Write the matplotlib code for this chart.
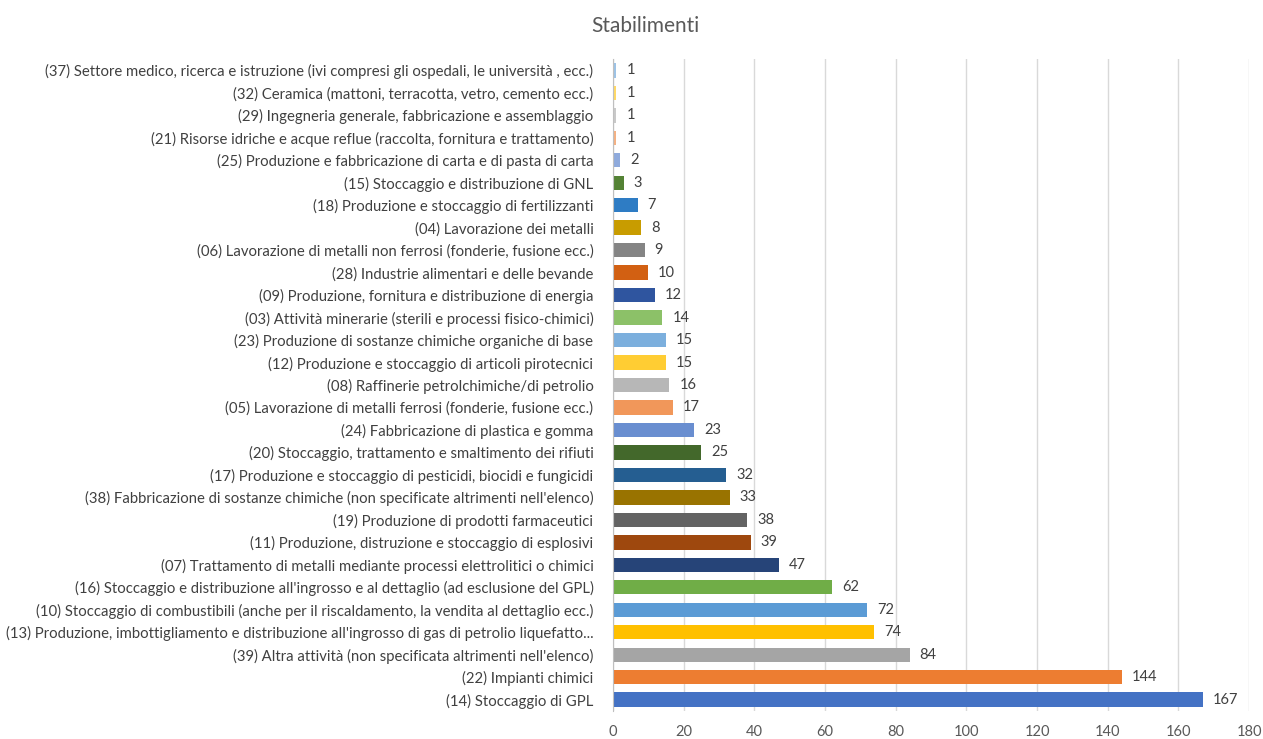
import matplotlib.pyplot as plt

# categories listed bottom -> top, as drawn
categories = [
    "(14) Stoccaggio di GPL",
    "(22) Impianti chimici",
    "(39) Altra attività (non specificata altrimenti nell'elenco)",
    "(13) Produzione, imbottigliamento e distribuzione all'ingrosso di gas di petrolio liquefatto...",
    "(10) Stoccaggio di combustibili (anche per il riscaldamento, la vendita al dettaglio ecc.)",
    "(16) Stoccaggio e distribuzione all'ingrosso e al dettaglio (ad esclusione del GPL)",
    "(07) Trattamento di metalli mediante processi elettrolitici o chimici",
    "(11) Produzione, distruzione e stoccaggio di esplosivi",
    "(19) Produzione di prodotti farmaceutici",
    "(38) Fabbricazione di sostanze chimiche (non specificate altrimenti nell'elenco)",
    "(17) Produzione e stoccaggio di pesticidi, biocidi e fungicidi",
    "(20) Stoccaggio, trattamento e smaltimento dei rifiuti",
    "(24) Fabbricazione di plastica e gomma",
    "(05) Lavorazione di metalli ferrosi (fonderie, fusione ecc.)",
    "(08) Raffinerie petrolchimiche/di petrolio",
    "(12) Produzione e stoccaggio di articoli pirotecnici",
    "(23) Produzione di sostanze chimiche organiche di base",
    "(03) Attività minerarie (sterili e processi fisico-chimici)",
    "(09) Produzione, fornitura e distribuzione di energia",
    "(28) Industrie alimentari e delle bevande",
    "(06) Lavorazione di metalli non ferrosi (fonderie, fusione ecc.)",
    "(04) Lavorazione dei metalli",
    "(18) Produzione e stoccaggio di fertilizzanti",
    "(15) Stoccaggio e distribuzione di GNL",
    "(25) Produzione e fabbricazione di carta e di pasta di carta",
    "(21) Risorse idriche e acque reflue (raccolta, fornitura e trattamento)",
    "(29) Ingegneria generale, fabbricazione e assemblaggio",
    "(32) Ceramica (mattoni, terracotta, vetro, cemento ecc.)",
    "(37) Settore medico, ricerca e istruzione (ivi compresi gli ospedali, le università , ecc.)",
]
values = [167, 144, 84, 74, 72, 62, 47, 39, 38, 33, 32, 25, 23, 17, 16, 15, 15, 14,
          12, 10, 9, 8, 7, 3, 2, 1, 1, 1, 1]
colors = [
    "#4472C4", "#ED7D31", "#A5A5A5", "#FFC000", "#5B9BD5", "#70AD47",
    "#264478", "#9E480E", "#636363", "#997300", "#255E91", "#43682B",
    "#698ED0", "#F1975A", "#B7B7B7", "#FFCD33", "#7CAFDD", "#8CC168",
    "#2F559F", "#D26012", "#848484", "#C89C00", "#2E7CC4", "#548235",
    "#8FAADC", "#F4B183", "#C9C9C9", "#FFD966", "#9DC3E6",
]
x_ticks = [0, 20, 40, 60, 80, 100, 120, 140, 160, 180]

plt.rcParams['font.family'] = ['Lato', 'DejaVu Sans']

fig = plt.figure(figsize=(12.63, 7.39), dpi=100)
ax = fig.add_axes([0.4853, 0.038, 0.5037, 0.882])

pos = list(range(len(categories)))
ax.barh(pos, values, height=0.64, color=colors, zorder=3)

for p, v in zip(pos, values):
    ax.text(v + 2.8, p, str(v), va='center', ha='left', fontsize=10.5, color='#404040')

ax.set_ylim(-0.5, len(categories) - 0.5)
ax.set_xlim(0, 180)
ax.set_xticks(x_ticks)
ax.set_yticks(pos)
ax.set_yticklabels(categories, fontsize=10.7, color='#404040')
ax.tick_params(axis='y', length=0, pad=14)
ax.tick_params(axis='x', length=0, pad=10, labelsize=10.5, labelcolor='#595959')
ax.grid(axis='x', color='#D9D9D9', linewidth=1, zorder=0)

for side in ['top', 'right', 'bottom']:
    ax.spines[side].set_visible(False)
ax.spines['left'].set_color('#BFBFBF')
ax.spines['left'].set_zorder(4)

fig.text(0.511, 0.965, "Stabilimenti", ha='center', va='center', fontsize=15, color='#595959')

fig.savefig('out.png', dpi=100)
